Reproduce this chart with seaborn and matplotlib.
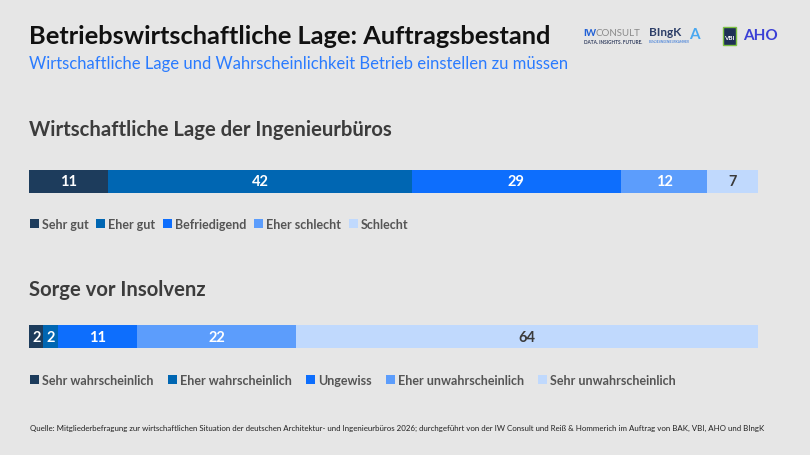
import numpy as np
import pandas as pd
import matplotlib
matplotlib.use("Agg")
import matplotlib.pyplot as plt
import seaborn as sns
from matplotlib.patches import Patch, Rectangle

# data
lage_levels = ["Sehr gut", "Eher gut", "Befriedigend", "Eher schlecht", "Schlecht"]
lage_values = [11, 42, 29, 12, 7]
insolvenz_levels = ["Sehr wahrscheinlich", "Eher wahrscheinlich", "Ungewiss",
                    "Eher unwahrscheinlich", "Sehr unwahrscheinlich"]
insolvenz_values = [2, 2, 11, 22, 64]

palette = ["#1d3c5c", "#0066b2", "#0d6efd", "#5c9dfc", "#c0d9fd"]
label_colors = ["white", "white", "white", "white", "#3a3a3a"]

BG = "#e6e6e6"
W, H = 810, 456

sns.set_theme(style="white")
plt.rcParams["font.family"] = ["Lato", "DejaVu Sans"]

fig = plt.figure(figsize=(W / 100, H / 100), dpi=100)
fig.patch.set_facecolor(BG)


def px_rect(x0, y0, x1, y1):
    return [x0 / W, 1 - y1 / H, (x1 - x0) / W, (y1 - y0) / H]


def stacked_bar(rect, levels, values, legend_y, colspace):
    ax = fig.add_axes(rect)
    ax.set_facecolor(BG)
    cum = np.cumsum(values)
    df = pd.DataFrame({"level": levels, "value": values, "cum": cum, "row": "a"})
    # draw from the longest cumulative bar down so shorter ones overlay
    for i in range(len(levels) - 1, -1, -1):
        sns.barplot(data=df.iloc[[i]], x="cum", y="row", orient="h",
                    color=palette[i], width=1, linewidth=0, saturation=1, ax=ax)
    for i, (v, c) in enumerate(zip(values, cum)):
        ax.text(c - v / 2, 0, str(v), ha="center", va="center",
                color=label_colors[i], fontsize=10.5, fontweight="bold")
    ax.set_xlim(0, cum[-1])
    ax.set_ylim(0.5, -0.5)
    ax.axis("off")
    handles = [Patch(facecolor=palette[i], edgecolor="none", label=lv)
               for i, lv in enumerate(levels)]
    leg = fig.legend(handles=handles, loc="center left",
                     bbox_to_anchor=(25 / W, 1 - legend_y / H), ncol=5,
                     frameon=False, handlelength=0.7, handleheight=0.7,
                     handletextpad=0.25, columnspacing=colspace, borderaxespad=0,
                     prop={"size": 9, "weight": "bold"})
    for t in leg.get_texts():
        t.set_color("#555555")
    return ax


stacked_bar(px_rect(29, 171, 758, 194), lage_levels, lage_values, 225, 0.62)
stacked_bar(px_rect(29, 326, 758, 349), insolvenz_levels, insolvenz_values, 381, 1.15)

# titles
fig.text(29 / W, 1 - 36 / H, "Betriebswirtschaftliche Lage: Auftragsbestand",
         fontsize=18.3, fontweight="bold", color="#111111", va="center")
fig.text(29 / W, 1 - 64 / H,
         "Wirtschaftliche Lage und Wahrscheinlichkeit Betrieb einstellen zu müssen",
         fontsize=12, color="#2a7bff", va="center")
fig.text(29 / W, 1 - 130 / H, "Wirtschaftliche Lage der Ingenieurbüros",
         fontsize=14.6, fontweight="bold", color="#3c3c3c", va="center")
fig.text(29 / W, 1 - 290 / H, "Sorge vor Insolvenz",
         fontsize=14.6, fontweight="bold", color="#3c3c3c", va="center")
fig.text(30 / W, 1 - 428 / H,
         "Quelle: Mitgliederbefragung zur wirtschaftlichen Situation der deutschen "
         "Architektur- und Ingenieurbüros 2026; durchgeführt von der IW Consult und "
         "Reiß & Hommerich im Auftrag von BAK, VBI, AHO und BIngK",
         fontsize=5.7, color="#222222", va="center")

# partner logos (text approximations)
fig.text(583 / W, 1 - 33 / H, "IW", fontsize=7, fontweight="bold", color="#1f5fd6", va="center")
fig.text(596 / W, 1 - 33 / H, "CONSULT", fontsize=7, color="#8a8a8a", va="center")
fig.text(584 / W, 1 - 42 / H, "DATA. INSIGHTS. FUTURE.", fontsize=3.4,
         fontweight="bold", color="#333f60", va="center")
fig.text(649 / W, 1 - 33 / H, "BIngK", fontsize=8.5, fontweight="bold", color="#2e3f68", va="center")
fig.text(649 / W, 1 - 42 / H, "BUNDESINGENIEURKAMMER", fontsize=2.2, color="#2a6fd6", va="center")
fig.text(689 / W, 1 - 35 / H, "A", fontsize=11, fontweight="bold", color="#4aa8f0", va="center")
fig.patches.append(Rectangle((723 / W, 1 - 46 / H), 13 / W, 18 / H,
                             transform=fig.transFigure, facecolor="#1e2f55",
                             edgecolor="#7cc142", linewidth=1))
fig.text(729.5 / W, 1 - 39 / H, "VBI", fontsize=4.5, fontweight="bold", color="white",
         ha="center", va="center")
fig.text(743 / W, 1 - 36 / H, "AHO", fontsize=11, fontweight="bold", color="#3a3fd6",
         va="center")

fig.savefig("out.png", dpi=100, facecolor=BG)
